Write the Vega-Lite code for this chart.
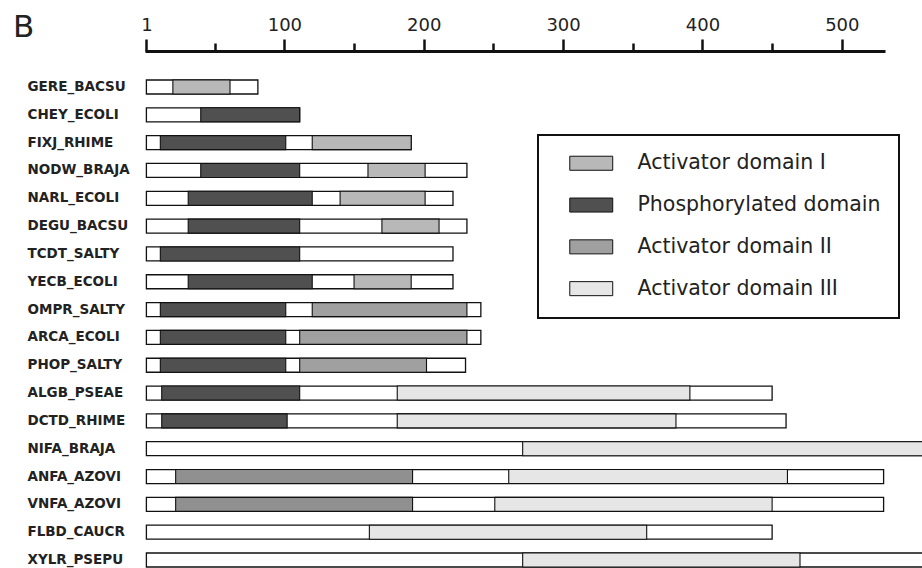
{
  "$schema": "https://vega.github.io/schema/vega-lite/v6.json",
  "autosize": {"type": "none"},
  "width": 740,
  "height": 487,
  "padding": {"left": 145, "top": 80, "right": 37, "bottom": 1},
  "background": "white",
  "title": {
    "text": "B",
    "anchor": "start",
    "frame": "bounds",
    "font": "DejaVu Sans",
    "fontSize": 31,
    "fontWeight": "normal",
    "color": "#222222",
    "baseline": "alphabetic",
    "offset": 0,
    "dx": -14,
    "dy": 52
  },
  "config": {"view": {"stroke": null}, "legend": {"strokeWidth": 2}},
  "datasets": {
    "proteins": [
      {"name": "GERE_BACSU", "start": 1, "length": 81},
      {"name": "CHEY_ECOLI", "start": 1, "length": 111},
      {"name": "FIXJ_RHIME", "start": 1, "length": 191},
      {"name": "NODW_BRAJA", "start": 1, "length": 231},
      {"name": "NARL_ECOLI", "start": 1, "length": 221},
      {"name": "DEGU_BACSU", "start": 1, "length": 231},
      {"name": "TCDT_SALTY", "start": 1, "length": 221},
      {"name": "YECB_ECOLI", "start": 1, "length": 221},
      {"name": "OMPR_SALTY", "start": 1, "length": 241},
      {"name": "ARCA_ECOLI", "start": 1, "length": 241},
      {"name": "PHOP_SALTY", "start": 1, "length": 230},
      {"name": "ALGB_PSEAE", "start": 1, "length": 450},
      {"name": "DCTD_RHIME", "start": 1, "length": 460},
      {"name": "NIFA_BRAJA", "start": 1, "length": 580},
      {"name": "ANFA_AZOVI", "start": 1, "length": 530},
      {"name": "VNFA_AZOVI", "start": 1, "length": 530},
      {"name": "FLBD_CAUCR", "start": 1, "length": 450},
      {"name": "XYLR_PSEPU", "start": 1, "length": 580}
    ],
    "domains": [
      {"name": "GERE_BACSU", "domain": "Activator domain I", "from": 20, "to": 61},
      {"name": "CHEY_ECOLI", "domain": "Phosphorylated domain", "from": 40, "to": 111},
      {"name": "FIXJ_RHIME", "domain": "Phosphorylated domain", "from": 11, "to": 101},
      {"name": "FIXJ_RHIME", "domain": "Activator domain I", "from": 120, "to": 191},
      {"name": "NODW_BRAJA", "domain": "Phosphorylated domain", "from": 40, "to": 111},
      {"name": "NODW_BRAJA", "domain": "Activator domain I", "from": 160, "to": 201},
      {"name": "NARL_ECOLI", "domain": "Phosphorylated domain", "from": 31, "to": 120},
      {"name": "NARL_ECOLI", "domain": "Activator domain I", "from": 140, "to": 201},
      {"name": "DEGU_BACSU", "domain": "Phosphorylated domain", "from": 31, "to": 111},
      {"name": "DEGU_BACSU", "domain": "Activator domain I", "from": 170, "to": 211},
      {"name": "TCDT_SALTY", "domain": "Phosphorylated domain", "from": 11, "to": 111},
      {"name": "YECB_ECOLI", "domain": "Phosphorylated domain", "from": 31, "to": 120},
      {"name": "YECB_ECOLI", "domain": "Activator domain I", "from": 150, "to": 191},
      {"name": "OMPR_SALTY", "domain": "Phosphorylated domain", "from": 11, "to": 101},
      {"name": "OMPR_SALTY", "domain": "Activator domain II", "from": 120, "to": 231},
      {"name": "ARCA_ECOLI", "domain": "Phosphorylated domain", "from": 11, "to": 101},
      {"name": "ARCA_ECOLI", "domain": "Activator domain II", "from": 111, "to": 231},
      {"name": "PHOP_SALTY", "domain": "Phosphorylated domain", "from": 11, "to": 101},
      {"name": "PHOP_SALTY", "domain": "Activator domain II", "from": 111, "to": 202},
      {"name": "ALGB_PSEAE", "domain": "Phosphorylated domain", "from": 12, "to": 111},
      {"name": "ALGB_PSEAE", "domain": "Activator domain III", "from": 181, "to": 391},
      {"name": "DCTD_RHIME", "domain": "Phosphorylated domain", "from": 12, "to": 102},
      {"name": "DCTD_RHIME", "domain": "Activator domain III", "from": 181, "to": 381},
      {"name": "NIFA_BRAJA", "domain": "Activator domain III", "from": 271, "to": 580},
      {"name": "ANFA_AZOVI", "domain": "Receiver-like domain", "from": 22, "to": 192},
      {"name": "ANFA_AZOVI", "domain": "Activator domain III", "from": 261, "to": 461},
      {"name": "VNFA_AZOVI", "domain": "Receiver-like domain", "from": 22, "to": 192},
      {"name": "VNFA_AZOVI", "domain": "Activator domain III", "from": 251, "to": 450},
      {"name": "FLBD_CAUCR", "domain": "Activator domain III", "from": 161, "to": 360},
      {"name": "XYLR_PSEPU", "domain": "Activator domain III", "from": 271, "to": 470}
    ]
  },
  "encoding": {
    "y": {
      "field": "name",
      "type": "nominal",
      "sort": ["GERE_BACSU","CHEY_ECOLI","FIXJ_RHIME","NODW_BRAJA","NARL_ECOLI","DEGU_BACSU","TCDT_SALTY","YECB_ECOLI","OMPR_SALTY","ARCA_ECOLI","PHOP_SALTY","ALGB_PSEAE","DCTD_RHIME","NIFA_BRAJA","ANFA_AZOVI","VNFA_AZOVI","FLBD_CAUCR","XYLR_PSEPU"],
      "scale": {"paddingInner": 0.497, "paddingOuter": 0},
      "axis": {
        "title": null,
        "orient": "left",
        "domain": false,
        "ticks": false,
        "labelAlign": "left",
        "labelPadding": 118,
        "labelFont": "DejaVu Sans",
        "labelFontWeight": "bold",
        "labelFontSize": 13.5,
        "labelColor": "#222222"
      }
    }
  },
  "layer": [
    {
      "data": {"name": "proteins"},
      "mark": {"type": "bar", "fill": "white", "stroke": "#111111", "strokeWidth": 1.3},
      "encoding": {
        "x": {
          "field": "start",
          "type": "quantitative",
          "scale": {"domain": [0, 531], "nice": false, "zero": false},
          "axis": {
            "title": null,
            "orient": "top",
            "offset": 29,
            "values": [1, 50, 100, 150, 200, 250, 300, 350, 400, 450, 500],
            "labelExpr": "datum.value % 100 == 50 ? '' : datum.label",
            "grid": false,
            "domainColor": "#111111",
            "domainWidth": 3,
            "tickColor": "#111111",
            "tickWidth": 2.5,
            "tickSize": {"condition": {"test": "datum.value % 100 == 50", "value": 8}, "value": 12},
            "labelFont": "DejaVu Sans",
            "labelFontSize": 18,
            "labelColor": "#222222",
            "labelPadding": 5,
            "labelFlush": false,
            "labelOverlap": false
          }
        },
        "x2": {"field": "length"}
      }
    },
    {
      "data": {"name": "domains"},
      "mark": {"type": "bar", "stroke": "#111111", "strokeWidth": 1.1},
      "encoding": {
        "x": {"field": "from", "type": "quantitative"},
        "x2": {"field": "to"},
        "fill": {
          "field": "domain",
          "type": "nominal",
          "scale": {
            "domain": ["Activator domain I", "Phosphorylated domain", "Activator domain II", "Activator domain III", "Receiver-like domain"],
            "range": ["#b8b8b8", "#505050", "#a0a0a0", "#e6e6e6", "#909090"]
          },
          "legend": {
            "values": ["Activator domain I", "Phosphorylated domain", "Activator domain II", "Activator domain III"],
            "title": null,
            "orient": "none",
            "legendX": 393,
            "legendY": 55,
            "fillColor": "white",
            "strokeColor": "#111111",
            "padding": 18,
            "rowPadding": 20.8,
            "symbolType": "M-3,-0.98H3V0.98H-3Z",
            "symbolSize": 205,
            "symbolStrokeColor": "#111111",
            "symbolStrokeWidth": 1,
            "symbolOpacity": 1,
            "symbolOffset": 25,
            "labelFont": "DejaVu Sans",
            "labelFontSize": 20.5,
            "labelColor": "#222222",
            "labelOffset": 36,
            "labelLimit": 400
          }
        }
      }
    }
  ]
}
